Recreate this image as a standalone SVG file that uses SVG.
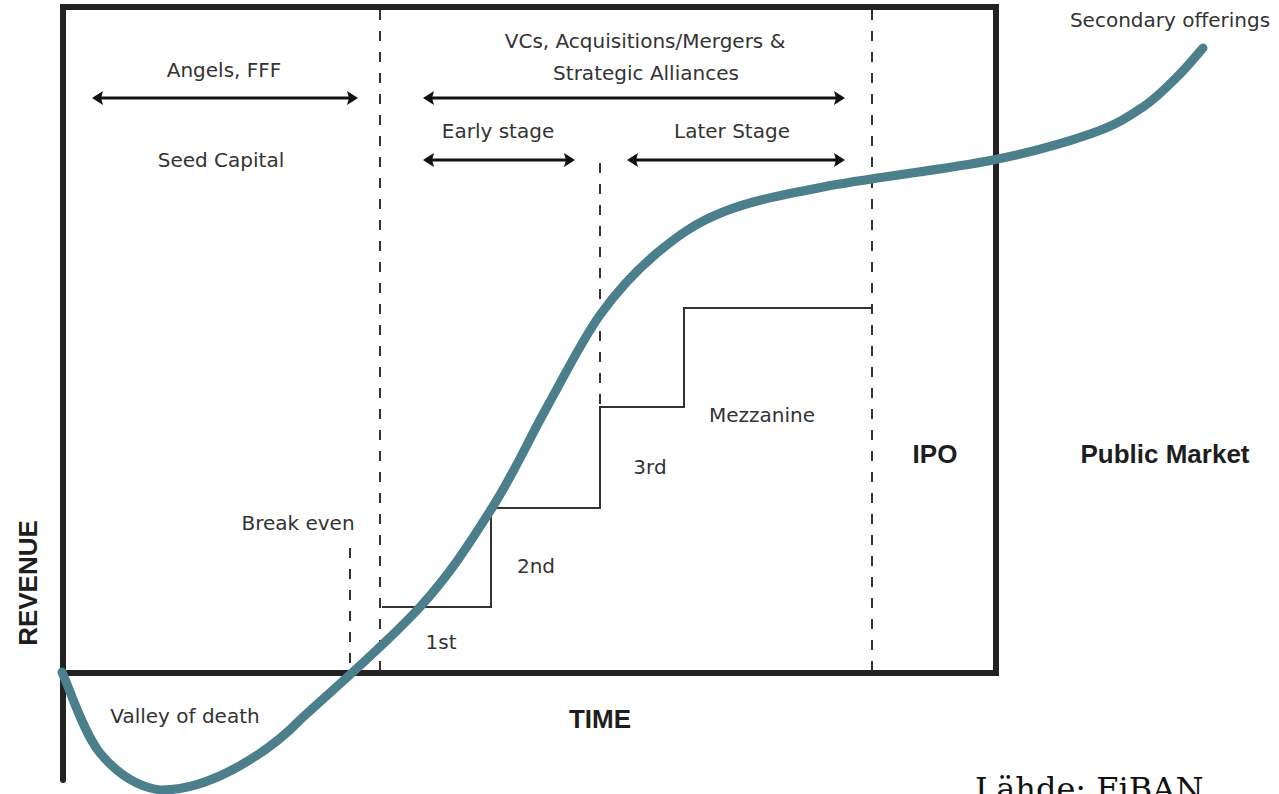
<svg xmlns="http://www.w3.org/2000/svg" width="1279" height="794" viewBox="0 0 1279 794">
<style>
.lbl{font-family:"DejaVu Sans","Liberation Sans",sans-serif;font-size:20px;fill:#333;text-anchor:middle}
.bold{font-family:"Liberation Sans",Arial,sans-serif;font-weight:bold;font-size:26px;fill:#1e1e1e;text-anchor:middle}
.frame{fill:none;stroke:#222;stroke-width:6;stroke-linecap:round;stroke-linejoin:miter}
.dash{fill:none;stroke:#333;stroke-width:2;stroke-dasharray:10 11}
.step{fill:none;stroke:#333;stroke-width:2}
.arr{fill:none;stroke:#111;stroke-width:3;marker-start:url(#ah);marker-end:url(#ah)}
.curve{fill:none;stroke:#4a7f8b;stroke-width:9;stroke-linecap:round;stroke-linejoin:round}
</style>
<defs>
<marker id="ah" markerUnits="userSpaceOnUse" markerWidth="14" markerHeight="16" refX="5" refY="7" orient="auto-start-reverse" viewBox="0 0 14 14">
<path d="M0,0 L11,7 L0,14 L2,7 Z" fill="#111"/>
</marker>
</defs>
<rect width="1279" height="794" fill="#fff"/>

<g id="frame">
<path class="frame" d="M63,780 L63,7 L996,7 L996,673 L63,673"/>
</g>

<g id="dividers">
<line class="dash" x1="380" y1="10" x2="380" y2="673"/>
<line class="dash" x1="872" y1="10" x2="872" y2="673"/>
<line class="dash" x1="600" y1="163" x2="600" y2="407"/>
<line class="dash" x1="350" y1="548" x2="350" y2="673"/>
</g>

<g id="steps">
<path class="step" d="M382,607 L491,607 L491,508 L600,508 L600,407 L684,407 L684,308 L872,308"/>
</g>

<g id="connectors">
<line class="arr" x1="98" y1="98" x2="352" y2="98"/>
<line class="arr" x1="429" y1="98" x2="839" y2="98"/>
<line class="arr" x1="429" y1="160" x2="569" y2="160"/>
<line class="arr" x1="633" y1="160" x2="839" y2="160"/>
</g>

<g id="curve">
<path class="curve" d="M62,672 C68.3,685.5 83.7,733.3 100,753 C116.3,772.7 136.7,786.7 160,790 C212,791 272,749 300,720 C330,692.3 388,642.3 420,607 C452,571.7 470.8,541.3 492,508 C513.2,474.7 529,439.2 547,407 C565,374.8 581.7,340.7 600,315 C618.3,289.3 636.5,270.2 657,253 C677.5,235.8 695.3,223 723,212 C750.7,201 778,195.7 823,187 C868,178.3 948,169 993,160 C1038,151 1068,141.8 1093,133 C1118,124.2 1129,116.3 1143,107 C1157,97.7 1167,86.8 1177,77 C1187,67.2 1198.7,52.8 1203,48"/>
</g>

<g id="label-angels"><text class="lbl" x="224" y="77">Angels, FFF</text></g>
<g id="label-seed"><text class="lbl" x="221" y="167">Seed Capital</text></g>
<g id="label-vcs"><text class="lbl" x="645" y="48">VCs, Acquisitions/Mergers &amp;</text><text class="lbl" x="646" y="80">Strategic Alliances</text></g>
<g id="label-early"><text class="lbl" x="498" y="138">Early stage</text></g>
<g id="label-later"><text class="lbl" x="732" y="138">Later Stage</text></g>
<g id="label-secondary"><text class="lbl" x="1170" y="27">Secondary offerings</text></g>
<g id="label-breakeven"><text class="lbl" x="298" y="530">Break even</text></g>
<g id="label-valley"><text class="lbl" x="185" y="723">Valley of death</text></g>
<g id="label-mezz"><text class="lbl" x="762" y="422">Mezzanine</text></g>
<g id="label-3rd"><text class="lbl" x="650" y="474">3rd</text></g>
<g id="label-2nd"><text class="lbl" x="536" y="573">2nd</text></g>
<g id="label-1st"><text class="lbl" x="441" y="649">1st</text></g>
<g id="label-revenue"><text class="bold" transform="translate(37,583) rotate(-90)">REVENUE</text></g>
<g id="label-time"><text class="bold" x="600" y="728">TIME</text></g>
<g id="label-ipo"><text class="bold" x="935" y="463">IPO</text></g>
<g id="label-public"><text class="bold" x="1165" y="463">Public Market</text></g>
<g id="label-source"><text x="975" y="800" font-family="'DejaVu Serif','Liberation Serif',serif" font-size="32" fill="#111">Lähde: FiBAN</text></g>
</svg>
